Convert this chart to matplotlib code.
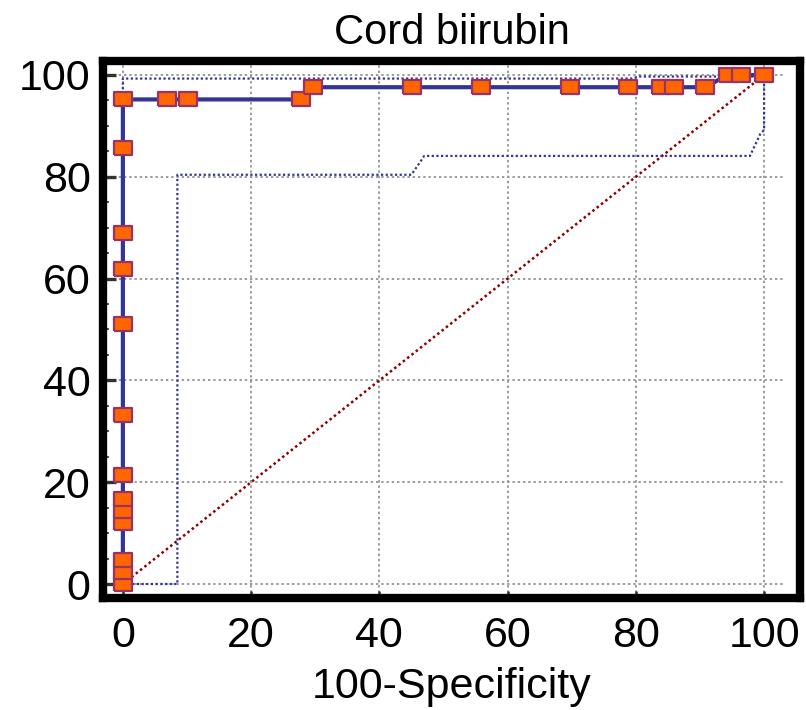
import matplotlib
matplotlib.use("Agg")
import matplotlib.pyplot as plt
import numpy as np

# ROC curve points (100-Specificity, Sensitivity)
roc_x = [0, 0, 0, 0, 0, 0, 0, 0, 0, 0, 0, 0, 0,
         6.9, 10.1, 27.8, 29.6, 45.1, 55.9, 69.7, 78.8, 83.9, 86.0, 90.8, 94.3, 96.4, 100]
roc_y = [0, 2.4, 4.8, 11.9, 14.3, 16.7, 21.4, 33.3, 51.0, 61.9, 69.0, 85.7, 95.2,
         95.2, 95.2, 95.2, 97.6, 97.6, 97.6, 97.6, 97.6, 97.6, 97.6, 97.6, 100, 100, 100]

# 95% confidence bounds
upper_x = [0, 0, 79.5, 80.5, 100]
upper_y = [0, 99.3, 99.3, 99.7, 99.7]
lower_x = [0, 8.5, 8.5, 45.0, 47.0, 97.8, 99.4, 100, 100]
lower_y = [0, 0, 80.4, 80.4, 84.1, 84.1, 88.4, 89.2, 100]

# Reference diagonal
diag_x = [0, 100]
diag_y = [0, 100]

title = "Cord biirubin"
xlabel = "100-Specificity"
xticks = [0, 20, 40, 60, 80, 100]
yticks = [0, 20, 40, 60, 80, 100]

plt.rcParams['font.family'] = ['Liberation Sans', 'DejaVu Sans']

fig = plt.figure(figsize=(8.06, 7.10), dpi=100)
ax = fig.add_axes([103/806, 1 - 598/710, (800 - 103)/806, (598 - 61)/710])
ax.set_xlim(-3.1, 105.6)
ax.set_ylim(-2.75, 102.75)

grid_kw = dict(color='#9a9a9a', lw=1.4, linestyle=(0, (1.2, 1.5)), zorder=0.5)
for t in yticks:
    ax.plot([-3.1, 103], [t, t], **grid_kw)
for t in xticks:
    ax.plot([t, t], [-2.75, 102.75], **grid_kw)

ax.plot(diag_x, diag_y, color='#8b0000', lw=1.8, linestyle=(0, (1, 1.2)), zorder=2)
ax.plot(upper_x, upper_y, color='#333399', lw=1.6, linestyle=(0, (1, 1.1)), zorder=2)
ax.plot(lower_x, lower_y, color='#333399', lw=1.6, linestyle=(0, (1, 1.1)), zorder=2)

rect = [(-1, -0.74), (1, -0.74), (1, 0.74), (-1, 0.74), (-1, -0.74)]
ax.plot(roc_x, roc_y, color='#333399', lw=3, zorder=3,
        marker=rect, markersize=13, markerfacecolor='#ff6600',
        markeredgecolor='#993366', markeredgewidth=1.6)

for s in ax.spines.values():
    s.set_linewidth(6)
    s.set_color('black')

ax.set_xticks(xticks)
ax.set_yticks(yticks)
ax.set_yticks(np.arange(0, 101, 5), minor=True)
ax.tick_params(axis='y', which='major', direction='in', length=9.5, width=2.4,
               color='#333333', labelsize=31, pad=9)
ax.tick_params(axis='y', which='minor', direction='in', length=4, width=1.3,
               color='#444444')
ax.tick_params(axis='x', which='major', direction='in', length=5, width=1.8,
               color='#333333', labelsize=31, pad=13)
ax.tick_params(axis='x', which='minor', bottom=False)

ax.set_title(title, fontsize=30, pad=12)
ax.set_xlabel(xlabel, fontsize=31, labelpad=8)

fig.savefig("out.png", dpi=100)
